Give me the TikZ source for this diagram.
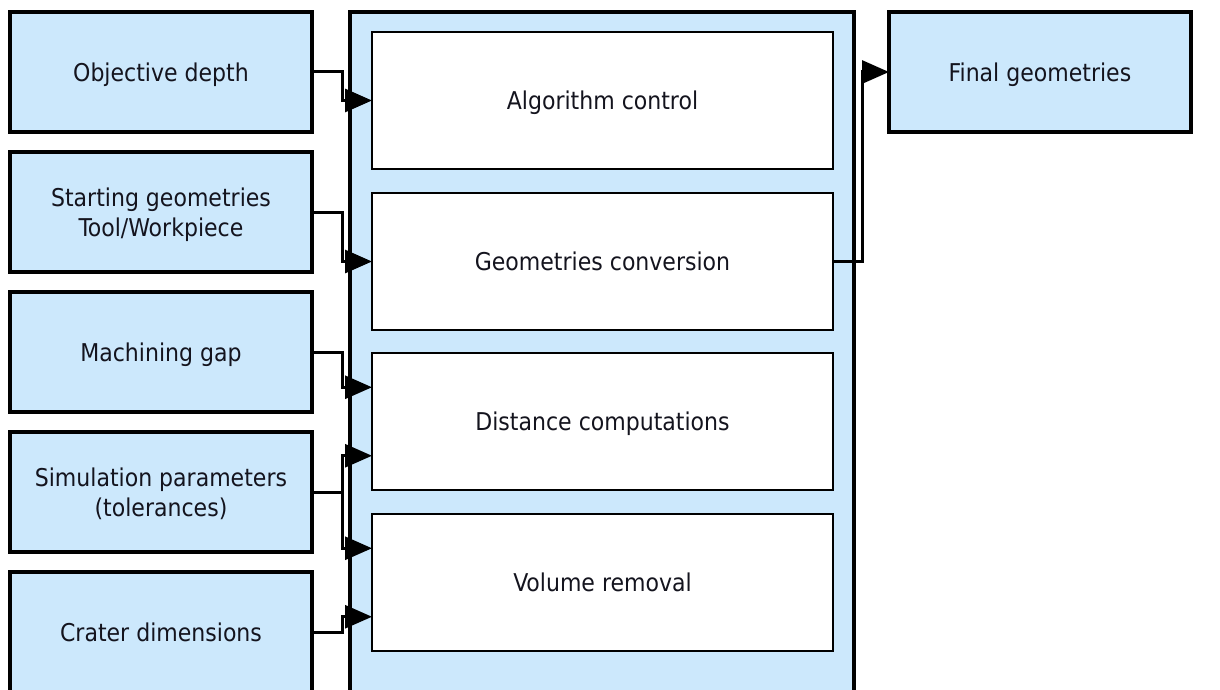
\documentclass[tikz,border=0pt]{standalone}
\usepackage{fontspec}
\setmainfont{DejaVu Sans Condensed}
\usetikzlibrary{arrows.meta,calc}
\definecolor{paleblue}{RGB}{204,232,252}
\definecolor{inkdark}{RGB}{20,20,30}
\tikzset{
  boxtext/.style={align=center, inner sep=0pt, outer sep=0pt, text=inkdark,
    text depth=0pt, font=\fontsize{24.5}{30}\selectfont},
  inbox/.style={boxtext, draw=black, line width=4pt, fill=paleblue,
    minimum width=302pt, minimum height=120pt},
  stage/.style={boxtext, draw=black, line width=2pt, fill=white,
    minimum width=461pt, minimum height=137pt},
  frame/.style={draw=black, line width=3.5pt, fill=paleblue, minimum width=504pt,
    minimum height=720pt, inner sep=0pt, outer sep=0pt},
  conn/.style={draw=black, line width=3pt, line join=miter,
    -{Triangle[length=27pt,width=23pt]}}
}
\begin{document}
\begin{tikzpicture}[x=1pt,y=-1pt]
\useasboundingbox (0,0) rectangle (1220,690);
\clip (0,0) rectangle (1220,690);
\fill[white] (0,0) rectangle (1220,690);

% processing frame and its stages
\node[frame] (main) at (602,372) {};
\node[stage] (A) at (602.5,100.5) {Algorithm control};
\node[stage] (B) at (602.5,261.5) {Geometries conversion};
\node[stage] (C) at (602.5,421.5) {Distance computations};
\node[stage] (D) at (602.5,582.5) {Volume removal};

% inputs
\node[inbox] (L1) at (161,72) {Objective depth};
\node[inbox] (L2) at (161,212) {Starting geometries\\Tool/Workpiece};
\node[inbox] (L3) at (161,352) {Machining gap};
\node[inbox] (L4) at (161,492) {Simulation parameters\\(tolerances)};
\node[inbox] (L5) at (161,632) {Crater dimensions};

% output
\node[inbox] (F) at (1040,72) {Final geometries};

% entry points on the stages
\coordinate (c1) at ($(C.north west)!0.25!(C.south west)$);
\coordinate (c2) at ($(C.north west)!0.75!(C.south west)$);
\coordinate (d1) at ($(D.north west)!0.25!(D.south west)$);
\coordinate (d2) at ($(D.north west)!0.75!(D.south west)$);

% connectors
\draw[conn] (L1.east) -- ++(30,0) |- (A.west);
\draw[conn] (L2.east) -- ++(30,0) |- (B.west);
\draw[conn] (L3.east) -- ++(30,0) |- (c1);
\draw[conn] (L4.east) -- ++(30,0) |- (c2);
\draw[conn] (L4.east) -- ++(30,0) |- (d1);
\draw[conn] (L5.east) -- ++(30,0) |- (d2);
\draw[conn] (B.east) -- ++(29,0) |- (F.west);
\end{tikzpicture}
\end{document}
